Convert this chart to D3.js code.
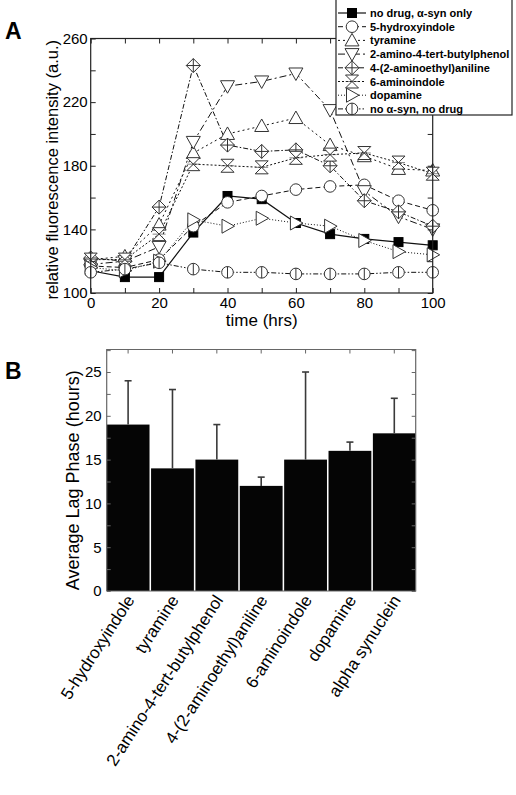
<!DOCTYPE html>
<html><head><meta charset="utf-8">
<script src="https://cdn.jsdelivr.net/npm/d3@7/dist/d3.min.js"></script>
<style>body{margin:0;background:#fff}svg{display:block}text{font-family:Arial,"Liberation Sans",sans-serif}</style>
</head><body><svg id="c" width="516" height="795"></svg>
<script>
// ---------- Panel A data ----------
const times = [0,10,20,30,40,50,60,70,80,90,100];
const seriesNames = ["no drug, \u03b1-syn only","5-hydroxyindole","tyramine","2-amino-4-tert-butylphenol","4-(2-aminoethyl)aniline","6-aminoindole","dopamine","no \u03b1-syn, no drug"];
const noDrug      = [114,110,110,138,161,159,144,137,134,132,130];
const hydroxy5    = [117,116,121,142,157,161,165,167,168,158,152];
const tyramine    = [121,123,143,188,200,205,210,193,186,178,177];
const aminoButyl  = [118,120,129,195,230,233,238,215,164,148,140];
const aminoEthyl  = [122,120,154,243,193,189,190,180,158,151,142];
const aminoindole6= [121,121,137,181,180,179,185,187,188,182,175];
const dopamine    = [116,114,120,146,142,147,144,142,133,126,124];
const noSyn       = [113,115,119,115,113,113,112,112,112,113,113];
const seriesValues = [noDrug,hydroxy5,tyramine,aminoButyl,aminoEthyl,aminoindole6,dopamine,noSyn];
const xTicksA = [0,20,40,60,80,100];
const yTicksA = [100,140,180,220,260];

// ---------- Panel B data ----------
const compounds = ["5-hydroxyindole","tyramine","2-amino-4-tert-butylphenol","4-(2-aminoethyl)aniline","6-aminoindole","dopamine","alpha synuclein"];
const lagPhase  = [19,14,15,12,15,16,18];
const lagUpper  = [24,23,19,13,25,17,22];
const yTicksB = [0,5,10,15,20,25];

// ---------- styles ----------
const dashes = [null,"5,3","2,3","7,3,2,3","5,2,1.5,2","2,2","1,2","5,2,1.5,2,1.5,2"];
const markerTypes = ["square","circle","up","down","diamond","hourglass","right","circleBar"];

const svg = d3.select("#c");
const frameCol = "#222";

function marker(g, type, x, y){
  const s = g.append("g").attr("transform",`translate(${x},${y})`);
  const st = {stroke:"#333","stroke-width":1,fill:"#fff"};
  const ap = el => { for (const k in st) el.attr(k, st[k]); return el; };
  switch(type){
    case "square": s.append("rect").attr("x",-4.5).attr("y",-4.5).attr("width",9).attr("height",9).attr("fill","#000").attr("stroke","#000"); break;
    case "circle": ap(s.append("circle").attr("r",5.8)); break;
    case "up": ap(s.append("path").attr("d","M0,-7L7,5.5L-7,5.5Z")); break;
    case "down": ap(s.append("path").attr("d","M0,7L7,-5.5L-7,-5.5Z")); break;
    case "diamond": ap(s.append("path").attr("d","M0,-7L7,0L0,7L-7,0Z")); s.append("path").attr("d","M0,-7V7M-7,0H7").attr("stroke","#333"); break;
    case "hourglass": ap(s.append("path").attr("d","M-6.5,-6.5L6.5,-6.5L-6.5,6.5L6.5,6.5Z").attr("fill","none")); s.append("path").attr("d","M-6.5,0H6.5").attr("stroke","#333").attr("stroke-width",0.6); break;
    case "right": ap(s.append("path").attr("d","M7,0L-5.5,-7L-5.5,7Z")); break;
    case "circleBar": ap(s.append("circle").attr("r",5.8)); s.append("path").attr("d","M0,-5.8V5.8").attr("stroke","#333"); break;
  }
}

// ================= Panel A =================
const A = {l:90.7, r:432.7, t:38.5, b:293};
const xA = d3.scaleLinear().domain([0,100]).range([A.l,A.r]);
const yA = d3.scaleLinear().domain([100,260]).range([A.b,A.t]);
const gA = svg.append("g");

const line = d3.line().x((d,i)=>xA(times[i])).y(d=>yA(d));
seriesValues.forEach((vals,k)=>{
  gA.append("path").attr("d",line(vals)).attr("fill","none")
    .attr("stroke","#111").attr("stroke-width",k===0?1.2:1)
    .attr("stroke-dasharray",dashes[k]);
});
seriesValues.forEach((vals,k)=>{
  vals.forEach((v,i)=>marker(gA, markerTypes[k], xA(times[i]), yA(v)));
});

gA.append("rect").attr("x",A.l).attr("y",A.t).attr("width",A.r-A.l).attr("height",A.b-A.t)
  .attr("fill","none").attr("stroke",frameCol).attr("stroke-width",1.2);
const axB = gA.append("g").attr("transform",`translate(0,${A.b})`)
  .call(d3.axisBottom(xA).tickValues(d3.range(0,101,10)).tickSizeInner(-5).tickSizeOuter(0).tickFormat(d=>xTicksA.includes(d)?d:""));
const axT = gA.append("g").attr("transform",`translate(0,${A.t})`)
  .call(d3.axisTop(xA).tickValues(d3.range(0,101,10)).tickSizeInner(-5).tickSizeOuter(0).tickFormat(""));
const axL = gA.append("g").attr("transform",`translate(${A.l},0)`)
  .call(d3.axisLeft(yA).tickValues(d3.range(100,261,20)).tickSizeInner(-5).tickSizeOuter(0).tickFormat(d=>yTicksA.includes(d)?d:""));
const axR = gA.append("g").attr("transform",`translate(${A.r},0)`)
  .call(d3.axisRight(yA).tickValues(d3.range(100,261,20)).tickSizeInner(-5).tickSizeOuter(0).tickFormat(""));
[axB,axT,axL,axR].forEach(a=>{a.select(".domain").remove(); a.selectAll("line").attr("stroke",frameCol);});
axB.selectAll("text").attr("font-size",15).attr("fill","#000").attr("y",4).attr("dy","0.72em");
axL.selectAll("text").attr("font-size",15).attr("fill","#000").attr("x",-3);

gA.append("text").attr("x",(A.l+A.r)/2).attr("y",326).attr("text-anchor","middle").attr("font-size",17).text("time (hrs)");
gA.append("text").attr("transform",`translate(58,${(A.t+A.b)/2+4}) rotate(-90)`).attr("text-anchor","middle").attr("font-size",16.5).text("relative fluorescence intensity (a.u.)");
gA.append("text").attr("x",5).attr("y",39).attr("font-size",23).attr("font-weight","bold").text("A");

// legend
const L = {x:336, y:-1, w:176, h:116};
const gL = svg.append("g");
gL.append("rect").attr("x",L.x).attr("y",L.y).attr("width",L.w).attr("height",L.h).attr("fill","#fff").attr("stroke","#222").attr("stroke-width",1.2);
seriesNames.forEach((name,k)=>{
  const yy = 13 + k*13.7;
  gL.append("line").attr("x1",L.x+2).attr("x2",L.x+30).attr("y1",yy).attr("y2",yy)
    .attr("stroke","#111").attr("stroke-width",k===0?1.2:1).attr("stroke-dasharray",dashes[k]);
  marker(gL, markerTypes[k], L.x+16, yy);
  gL.append("text").attr("x",370).attr("y",yy+4).attr("font-size",11).attr("font-weight","bold").text(name);
});

// ================= Panel B =================
const B = {l:106.7, r:415.7, t:349.5, b:591};
const xB = d3.scaleBand().domain(compounds).range([B.l,B.r]).paddingInner(0.035).paddingOuter(0);
const yB = d3.scaleLinear().domain([0,27.57]).range([B.b,B.t]);
const gB = svg.append("g");

gB.selectAll("rect.bar").data(compounds).join("rect").attr("class","bar")
  .attr("x",d=>xB(d)).attr("width",xB.bandwidth())
  .attr("y",(d,i)=>yB(lagPhase[i])).attr("height",(d,i)=>yB(0)-yB(lagPhase[i]))
  .attr("fill","#050505");

compounds.forEach((c,i)=>{
  const cx = xB(c)+xB.bandwidth()/2;
  gB.append("line").attr("x1",cx).attr("x2",cx).attr("y1",yB(lagPhase[i])).attr("y2",yB(lagUpper[i])).attr("stroke","#3a3a3a").attr("stroke-width",1.6);
  gB.append("line").attr("x1",cx-3.5).attr("x2",cx+3.5).attr("y1",yB(lagUpper[i])).attr("y2",yB(lagUpper[i])).attr("stroke","#3a3a3a").attr("stroke-width",1.6);
});

gB.append("path").attr("d",`M${B.l},${B.b}V${B.t}H${B.r}V${B.b}H${B.l}`).attr("fill","none").attr("stroke","#666").attr("stroke-width",1.2);
const bL = gB.append("g").attr("transform",`translate(${B.l},0)`)
  .call(d3.axisLeft(yB).tickValues(d3.range(0,27.6,2.5)).tickSizeInner(-4).tickSizeOuter(0).tickFormat(d=>yTicksB.includes(d)?d:""));
const bR = gB.append("g").attr("transform",`translate(${B.r},0)`)
  .call(d3.axisRight(yB).tickValues(d3.range(0,27.6,2.5)).tickSizeInner(-4).tickSizeOuter(0).tickFormat(""));
const bT = gB.append("g").attr("transform",`translate(0,${B.t})`)
  .call(d3.axisTop(xB).tickSizeInner(-4).tickSizeOuter(0).tickFormat(""));
[bL,bR,bT].forEach(a=>{a.select(".domain").remove(); a.selectAll("line").attr("stroke","#666");});
bL.selectAll("text").attr("font-size",15).attr("fill","#000").attr("x",-5);

gB.selectAll("text.xl").data(compounds).join("text").attr("class","xl")
  .attr("transform",d=>`translate(${xB(d)+xB.bandwidth()/2+7},${B.b+9}) rotate(-57)`)
  .attr("text-anchor","end").attr("font-size",17).text(d=>d);

gB.append("text").attr("transform",`translate(79,${(B.t+B.b)/2+10}) rotate(-90)`).attr("text-anchor","middle").attr("font-size",18).text("Average Lag Phase (hours)");
gB.append("text").attr("x",5).attr("y",379).attr("font-size",23).attr("font-weight","bold").text("B");
</script></body></html>
